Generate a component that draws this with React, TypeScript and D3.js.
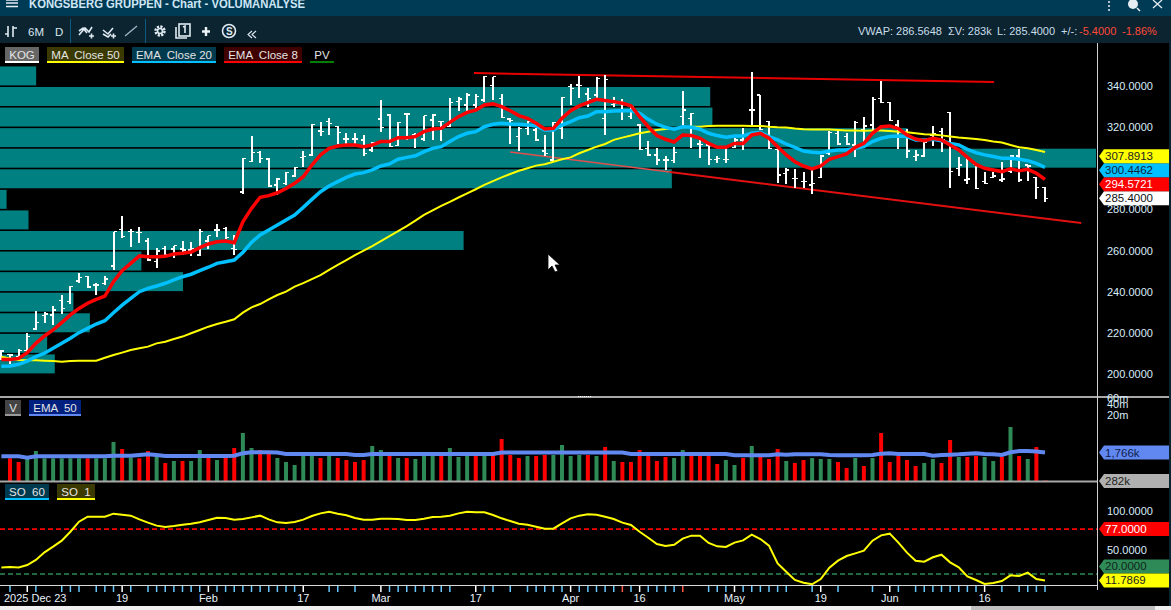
import React from 'react';
import * as d3 from 'd3';

// price bars, oldest first; the first entry is the bar cut off at the left edge (bar -1)
const opens = [
  209,
  209.6,208.4,211.4,221.9,228.4,228.7,235.7,235.2,245.2,247.3,
  243.3,244.1,252.5,270.3,269.2,268.7,264.6,254.6,261.1,260.8,
  260.8,260.3,257.9,264.6,270,270.8,261.1,288.5,303.4,307.6,
  304.5,291.9,292.7,296.3,305.2,306.5,318.1,322.7,320.2,314.2,
  314.2,313.8,308.9,324,325.9,311,326.4,316.2,314.2,323.5,
  322.7,320.2,332.4,330.8,330.8,333.2,340.2,334,324,315.4,
  319.4,318.6,308.4,304,319.4,339.7,340.5,336.1,335.6,324.3,
  331.1,331.6,325.1,321,309.7,306.5,304,303.7,325.1,324.3,
  311.8,311.3,304.4,304.4,310.2,313.8,328.3,335.6,322.7,309.2,
  297.6,295.1,293.5,291.9,295.6,307.3,317,315.4,311.3,319,
  321,334,332.1,321,317.8,305.7,306,316.2,317.8,327,
  300,294.3,302,293.5,295.6,294.3,298.4,306,301.6,295.6,
  290.8,
];
const closes = [
  211.2,
  209.2,211.4,218.2,225.1,229.2,231.1,231.9,242.5,246.8,242.3,
  243.3,246.2,269.2,266.8,269.2,268.7,255.4,259.8,257.9,262.4,
  260.3,261.1,269.2,267.2,270,266.4,260.6,304.9,307.6,304.9,
  291.4,294.8,297.9,300.3,305.7,321.4,317.8,321.9,317.3,314.2,
  314.2,307.3,312.5,319.9,310.5,322.2,326.4,316.5,325.6,325.9,
  322.7,331.9,333.7,335.6,334.8,344.5,344.5,324.6,323.2,319.4,
  322.7,313.8,307.3,322.3,334.5,338.9,340.2,334,343.7,343.2,
  331.6,328.3,330,309.2,306.5,304,304,307.6,328.3,326.7,
  311.5,304.4,304.9,304.4,313.8,313.4,328.3,319,309.7,296.8,
  299.2,295.1,293.5,292.7,306,317.3,311.8,311.8,322.3,320.6,
  333.5,332.1,323.2,319.4,308.4,306.5,312.5,317,313.8,298.4,
  301.6,294.7,290.1,292.7,296.3,294.7,306,294.3,301.1,290.8,
  285.4,
];
const highs = [
  211.5,
  209.7,212,219.8,230.6,230.3,233.1,238.2,242.8,248.9,247.6,
  244.1,247.6,269.2,276.8,270.5,271.3,266,261.1,262.4,262.4,
  264.5,264,270.3,267.2,272.9,271.3,267.6,305.2,315.7,308.4,
  304.9,295.2,298.4,300.8,308.4,321.4,322.3,324.6,320.7,317,
  317,316.2,313,333.2,326.2,322.3,326.7,317,325.6,326.2,
  323,334,334.8,336.8,336.1,345,344.5,336.1,324.3,319.9,
  323.2,319.4,316.2,322.3,334.8,341,345,338.9,344.5,345.4,
  334.8,333.5,330.8,321.4,313.4,309.7,306.1,310.5,337.6,326.7,
  313.8,311.5,306,310,314.6,319.4,346.7,335.6,323.2,309.7,
  300,299.7,298.4,299.2,306.5,318.1,318.1,317,323,325.1,
  334.8,342.6,332.4,323.5,319,308.9,313.3,320.6,319.4,327.2,
  305.3,304.9,302.4,298.4,298.4,303.2,306.5,309.2,301.6,295.9,
  291.1,
];
const lows = [
  207,
  204.9,207.6,210.9,221.6,225,223.8,229.2,234,244.4,242,
  238.4,243.3,250.6,266,261.9,263.5,254.9,251.7,257,256.2,
  257.9,257.4,257.4,260.6,266.8,265.5,257.9,287.5,302.9,302.8,
  291.1,287,291.9,295.6,300.5,306,315.9,316.2,311.8,311.3,
  311.2,306.2,308.1,317.5,310.5,311,313.8,309.7,313.3,313.8,
  313.4,319.9,327.9,327.5,329.2,332.4,333.2,324.3,311.8,308.4,
  316.2,313.4,306,303.2,314.2,330.8,334,330,334,316.2,
  329.6,323.5,324,308.9,306,301.6,299.2,302.7,320.2,309.7,
  305.2,301.6,302.4,302.4,309.7,308.9,321,318.6,309.4,292.7,
  292.4,290.3,290.3,287.3,295.1,306.5,311.3,311.3,305.7,310.2,
  318.6,331.6,323.2,309.2,305.2,303.7,305.7,310.8,308.1,290.3,
  296.4,292.2,289.8,292.2,295.4,293.5,297.9,293.5,293.8,284.9,
  283.5,
];

const ema8 = [
  207.1,
  207.1,207.6,210.4,214.9,218.5,221.4,225,228.7,231.9,234.4,
  236.3,237.9,244.9,250.2,253.8,257.4,257,257,257.2,258.3,
  258.7,259.3,261.4,263.2,264.3,264.6,263.8,274,280.5,285.9,
  286.7,288.1,290.2,292.7,295.9,301.6,306.5,309.7,310.8,311.3,
  311.3,310.5,311.3,313,313,314.9,314.9,315.4,317.8,319.1,
  319.4,322.3,325.1,327.2,328.3,330.8,331.3,330,328,325.6,
  324.3,321.9,319.1,319.4,324.3,328,330.3,331.9,333.5,332.9,
  332.4,331.6,330.4,325.1,320.2,315.9,314.1,312.8,316.2,315.9,
  314.6,312.1,310.2,310.2,312.1,312.1,316.2,317,314.6,310.5,
  306.5,303.2,301.1,299.7,301.1,304.4,305.7,307,310.2,312.1,
  317,320.2,320.6,319.3,316.2,314.2,313.4,314.6,313.8,311.3,
  308.9,305.3,301.9,300,299.2,298.4,299.7,298.8,299.5,297.6,
  294.57,
];
const ema20 = [
  203.8,
  203.9,204.7,206.3,208.4,210.1,212.5,214.9,217.4,220.1,222.2,
  224.3,225.9,229.8,233.5,236.8,240,241.6,242.8,244.1,245.7,
  247.3,248.5,250.2,251.9,253.8,254.6,255.4,259.1,264,267.6,
  270,272.4,274.9,277.3,281,284.9,288.6,291.4,293.5,295.6,
  297.2,297.9,299.2,301.1,302.1,304.4,305.3,306.1,308.1,309.7,
  310.5,313,315.4,317,317.8,320.2,321.4,321.9,321.5,321.4,
  321,320.6,318.6,318.6,321,322.7,324.6,325.4,327.5,327.5,
  327.9,328,328,326.7,323.8,321.4,319.9,319,320.2,319.9,
  319,317,315.9,315.1,315.7,315.7,317,317.5,315.4,313.8,
  311.8,310.2,308.4,307.8,307.6,308.4,308.9,308.9,309.7,310.5,
  313,314.6,315.4,315.7,315.4,313.8,313.8,314.1,313.4,312.1,
  311.3,309.2,307.6,306.5,305.7,304.9,304.9,304.4,303.7,302.4,
  300.45,
];
const ma50 = [
  208.4,
  207.6,206.8,206.7,206.7,206.5,206.3,206,206.3,206.5,206.5,
  206.5,207.9,209.2,210.4,211.7,212.5,213.3,214.9,215.7,217,
  218.2,219.8,221.4,223,224.3,225.4,226.6,229.8,232.4,234,
  236.3,238.4,240,242.5,244.2,246.1,248.1,250.6,253,255.4,
  257.8,260,262.2,264.6,267,269.5,271.9,274.6,277.3,279.5,
  281.7,283.7,285.8,287.8,289.8,291.9,293.8,295.6,297.2,298.8,
  300,301.3,302,303.2,304.4,305.3,307.3,308.9,310.5,311.8,
  313.8,314.9,315.9,317,317.8,318.6,319.1,319.4,319.9,320.2,
  320.2,320.6,320.7,320.7,320.7,320.7,320.6,320.6,320.2,319.9,
  319.8,319.3,319,318.8,318.8,318.8,318.6,318.4,318.4,318.3,
  318.4,318.4,318.1,317.8,317.5,317,316.5,316.4,316,315.5,
  315,314.6,314.2,313.8,313,312.5,311.3,310.2,309.7,308.9,
  307.89,
];

// volume in thousands, starts at bar 0
const volumes = [
  1220,961,1220,1956,1220,1220,1220,1220,1220,1220,
  1220,1220,3500,2226,1270,1220,1956,1500,901,1026,
  1026,1026,2087,1270,1094,1270,2375,6260,2375,2087,
  1686,1245,961,792,1511,1511,1245,1511,1245,1094,
  961,1094,2702,2087,1416,1245,
  1245,1167,1511,1511,1511,2375,1328,1511,1511,1511,
  1511,4245,1511,1245,1416,1416,1511,1511,2882,1416,
  1511,1511,1416,2533,1026,961,961,2087,1416,1026,
  1328,1245,2087,1416,1416,1416,845,1094,792,1245,
  2702,1416,1167,2226,1026,901,
  1094,1245,1167,1167,961,653,1245,743,1245,6260,
  961,1416,1094,743,901,1167,901,3980,1328,1328,
  1416,1328,1026,1328,9220,1416,1167,2533,290,
];
const volumeSides = (
  'rrgggggggrgggrgrrgrgrggrgrrggrrgggggrgrrrrggrg' +
  'rgggrgggrgrrrrgrrggggrgrgrrrrrrggrrrrggrgrrrgr' +
  'rgggrrgrgrrrrrggrrgrrggrgrgrr'
).split('');
const volumeEma = [
  1385,
  1385,1385,1270,1385,1385,1385,1385,1385,1385,1385,
  1385,1385,1445,1445,1445,1511,1575,1511,1416,1416,
  1416,1416,1416,1416,1416,1416,1445,1700,1807,1807,
  1807,1766,1610,1610,1610,1610,1610,1610,1610,1610,
  1511,1511,1610,1610,1610,1610,1610,1610,1610,1610,
  1610,1610,1610,1610,1610,1610,1610,1766,1766,1766,
  1766,1766,1766,1766,1766,1766,1766,1766,1766,1766,
  1766,1766,1610,1610,1610,1610,1610,1610,1610,1610,
  1610,1610,1610,1610,1480,1480,1480,1480,1480,1575,
  1540,1575,1575,1575,1575,1511,1480,1480,1480,1480,
  1511,1650,1686,1610,1610,1610,1610,1445,1511,1540,
  1575,1650,1686,1610,1575,1511,1807,1956,1956,1900,
  1766,
];

const stochastic = [
  28.4,
  28.9,28.4,31.4,37.8,47.5,54.7,62.3,73.7,86.4,92.8,
  92.8,92.8,96.6,95.3,94.1,89.4,85.2,81.4,79.7,80.9,
  82.6,83.9,85.6,88.5,91.5,91.1,89,89.8,91.9,94.1,
  89.4,85.6,84.7,86,89,93.6,97,99.1,96.6,94.5,
  91.1,89,89,90.2,90.2,89.8,88.6,88.6,90.2,92.4,
  92.8,94.1,97,99.1,98.3,98.3,94.9,90.7,87.3,83.9,
  82.6,80.1,77.5,77.5,84.3,90.7,94.1,95.8,95.3,92.8,
  89.8,85.2,82.2,73.7,66.1,58,55.5,57.2,64.9,68.7,
  68.7,59.4,55.1,54.3,59.8,62.7,69.9,64.4,56,33.5,
  22.9,12.4,9,6.9,13.6,28,36.9,42.8,46.2,49.6,
  62.3,69.1,71.2,59.8,47.1,36.9,35.6,41.2,44.5,34.8,
  28.4,17,12.4,7.3,8.6,11.1,18.3,17.4,21.7,13.6,
  11.79,
];

// volume by price: lower edge of each 10 wide bin, share of the widest bin
const profileBins = [200,210,220,230,240,250,260,270,280,290,300,310,320,330,340];
const profileSizes = [5,4.3,8.2,6.7,16.7,12.9,42.3,2.6,0.6,61.3,100,82.8,65,64.8,3.3];

const priceTicks = [200,220,240,260,280,320,340];
const volumeTicks = [20000,40000,60000];
const volumeTickLabels = ['20m','40m','60m'];
const stochTicks = [50,100];

// bar index, price
const trendUpper = [[53.8,346.3],[114.1,341.9]];
const trendLowerFaint = [[58,307.9],[76.5,298.2]];
const trendLower = [[76.5,298.2],[124.2,273.4]];

const dateLabelBars = [13,23,34,43,54,65,73,84,94,102,113];
const dateLabels = ['19','Feb','17','Mar','17','Apr','16','May','19','Jun','16'];
const whiteTickBars = [2,13,23,34,43,54,65,73,84,94,102,113];
const redTickBars = [71,78];
const tickBars = [
  0,2,3,6,7,8,10,11,12,13,14,16,17,18,19,20,21,22,23,24,25,26,27,28,29,30,31,32,33,34,37,38,40,43,44,45,
  46,47,48,49,50,51,54,55,56,58,60,61,62,63,64,65,66,67,68,69,70,71,72,73,74,75,76,77,78,81,82,83,84,85,86,87,88,89,90,
  93,94,96,100,102,103,105,106,107,108,109,110,111,112,113,115,117,118,119,120,
];

const FONT = '"Liberation Sans", Arial, sans-serif';
const TEAL = '#008080';
const AXIS_TEXT = '#d8ecfa';
const BLUE = '#00c0ff';
const VOL_BLUE = '#6088f0';
const GREEN = '#2e8b57';

const x = d3.scaleLinear().domain([0, 120]).range([10, 1045]);
const y = d3.scaleLinear().domain([340, 200]).range([86, 374]);
const yVol = d3.scaleLog().domain([282, 20000]).range([481, 415]);
const yStoch = d3.scaleLinear().domain([100, 20]).range([511, 574]);
const xProfile = d3.scaleLinear().domain([0, 100]).range([0, 1096]);

// series arrays begin one bar before bar 0
const seriesLine = (yScale: (v: number) => number) =>
  d3.line<number>().x((_, i) => x(i - 1)).y(d => yScale(d));

const trendLine = d3.line<number[]>().x(d => x(d[0])).y(d => y(d[1]));

function Legend({ left, top, width, label, bg, line }: any) {
  return (
    <g>
      {bg && <rect x={left} y={top} width={width} height={15} fill={bg} />}
      <rect x={left} y={top + 14} width={width} height={2} fill={line} />
      <text x={left + width / 2} y={top + 12} textAnchor="middle" fontSize={11.5} fill="#e4e4e4" style={{ whiteSpace: 'pre' }}>
        {label}
      </text>
    </g>
  );
}

function Tag({ cy, label, fill, color }: any) {
  const h = 7;
  return (
    <g>
      <path d={`M1099,${cy} L1104,${cy - h} H1169 V${cy + h} H1104 Z`} fill={fill} />
      <text x={1105} y={cy + 4} fontSize={11.5} fill={color}>{label}</text>
    </g>
  );
}

function Toolbar() {
  const stroke = { fill: 'none', stroke: '#dfeaf2', strokeWidth: 1.6 };
  return (
    <g>
      <rect x={0} y={0} width={1171} height={16} fill="#003b55" />
      <rect x={0} y={16} width={1171} height={27} fill="#0c2430" />
      <path d="M6,3H18M6,6.5H18M6,0H18" stroke="#e6eef4" strokeWidth={1.5} />
      <text x={29} y={8} fontSize={12} fontWeight="bold" fill="#cfe6f4" textLength={276} lengthAdjust="spacingAndGlyphs">
        KONGSBERG GRUPPEN - Chart - VOLUMANALYSE
      </text>
      <path d="M1109,1V3M1109,5V7M1109,9V11" stroke="#e6eef4" strokeWidth={1.5} />
      <circle cx={1133} cy={4} r={5} fill="#e6eef4" />
      <path d="M1137,8L1140,11" stroke="#e6eef4" strokeWidth={1.5} />
      <path d="M1153,0L1162,8M1162,0L1153,8" stroke="#e6eef4" strokeWidth={1.3} />

      <path d="M8,26V37M5,34H8M13,26V37M13,28H17" {...stroke} />
      <text x={28} y={36} fontSize={11.5} fill="#d8e6f0">6M</text>
      <text x={55} y={36} fontSize={11.5} fill="#d8e6f0">D</text>
      <rect x={70} y={19} width={1} height={24} fill="#0b5a80" />
      <path d="M79,35L85,28L89,32L92,27M79,31L83,28L87,33" {...stroke} />
      <path d="M89,36H94M91.5,33.5V38.5" {...stroke} />
      <path d="M103,30L108,34L113,28M103,34L108,37L111,34" {...stroke} />
      <path d="M111,36H116M113.5,33.5V38.5" {...stroke} />
      <path d="M125,36L137,26" stroke="#9fb4c2" strokeWidth={1.4} />
      <rect x={145} y={19} width={1} height={24} fill="#0b5a80" />
      <circle cx={160} cy={31} r={4.5} fill="none" stroke="#dfeaf2" strokeWidth={2.4} strokeDasharray="2.2 1.3" />
      <circle cx={160} cy={31} r={2.5} {...stroke} />
      <rect x={179} y={24} width={11} height={12} {...stroke} />
      <path d="M176,27V38H187" {...stroke} />
      <path d="M183,27L185,26V33" {...stroke} />
      <path d="M206,27V36M202,31.5H210" stroke="#eef4f8" strokeWidth={2.4} />
      <circle cx={229} cy={31} r={6.5} {...stroke} />
      <text x={226} y={35} fontSize={10} fontWeight="bold" fill="#dfeaf2">S</text>
      <path d="M252,31L248,34.5L252,38M256,31L252,34.5L256,38" {...stroke} strokeWidth={1.1} />

      <g fontSize={11} fill="#c8dcea">
        <text x={858} y={35}>VWAP: 286.5648</text>
        <text x={948} y={35}>ΣV: 283k</text>
        <text x={997} y={35}>L: 285.4000</text>
        <text x={1061} y={35}>+/-:</text>
      </g>
      <g fontSize={11} fill="#ff4a3a">
        <text x={1079} y={35}>-5.4000</text>
        <text x={1122} y={35}>-1.86%</text>
      </g>
    </g>
  );
}

export default function App() {
  const lastPrice = closes[closes.length - 1];
  const lastStoch = stochastic[stochastic.length - 1];
  const lastVolEma = volumeEma[volumeEma.length - 1];
  // value tags sit stacked 14px apart, upward from the last price
  const tagBase = y(lastPrice);
  const stackedTags = [
    { label: lastPrice.toFixed(4), fill: '#ffffff', color: '#111' },
    { label: '294.5721', fill: '#ff0000', color: '#fff' },
    { label: '300.4462', fill: BLUE, color: '#10233a' },
    { label: '307.8913', fill: '#ffff00', color: '#222' },
  ];
  const barWidth = 4;

  return (
    <div style={{ position: 'absolute', left: 0, top: 0, width: 1171, height: 610, background: '#000' }}>
      <svg width={1171} height={610} fontFamily={FONT} style={{ display: 'block' }}>
        <rect x={0} y={0} width={1171} height={610} fill="#000" />

        {/* volume by price */}
        {profileBins.map((b, i) => (
          <rect
            key={b}
            x={0}
            y={y(b + 10) + 1}
            width={xProfile(profileSizes[i])}
            height={y(b) - y(b + 10) - 1.6}
            fill={TEAL}
          />
        ))}

        <path d={trendLine(trendUpper) || ''} fill="none" stroke="#e80000" strokeWidth={2} />
        <path d={trendLine(trendLowerFaint) || ''} fill="none" stroke="#e05050" strokeWidth={1.6} />
        <path d={trendLine(trendLower) || ''} fill="none" stroke="#e21010" strokeWidth={2} />

        {/* OHLC bars */}
        <g stroke="#fff" shapeRendering="crispEdges">
          {highs.map((h, i) => {
            const bx = x(i - 1);
            return (
              <g key={i}>
                <line x1={bx} x2={bx} y1={y(h)} y2={y(lows[i])} strokeWidth={2} />
                <line x1={bx - 3} x2={bx} y1={y(opens[i])} y2={y(opens[i])} strokeWidth={1.4} />
                <line x1={bx} x2={bx + 3} y1={y(closes[i])} y2={y(closes[i])} strokeWidth={1.4} />
              </g>
            );
          })}
        </g>

        <path d={seriesLine(y)(ma50) || ''} fill="none" stroke="#ffff00" strokeWidth={2} />
        <path d={seriesLine(y)(ema20) || ''} fill="none" stroke={BLUE} strokeWidth={3.5} />
        <path d={seriesLine(y)(ema8) || ''} fill="none" stroke="#ff0000" strokeWidth={3.5} />

        {/* pane separators and axes */}
        <rect x={0} y={396} width={1171} height={2} fill="#a8a8a8" />
        <path d="M578,396.5h14" stroke="#fff" strokeWidth={1} strokeDasharray="1 1" />
        <rect x={1097} y={43} width={1} height={547} fill="#d0d0d0" />
        <rect x={1169} y={43} width={2} height={563} fill="#0c2430" />

        {/* volume */}
        {volumes.map((v, i) => (
          <rect
            key={i}
            x={x(i) - barWidth / 2}
            y={yVol(v)}
            width={i === 120 ? 5 : barWidth}
            height={Math.max(1, 481 - yVol(v))}
            fill={volumeSides[i] === 'g' ? GREEN : '#ff0000'}
          />
        ))}
        <rect x={0} y={480.5} width={1097} height={2} fill="#a8a8a8" />
        <path d={seriesLine(yVol)(volumeEma) || ''} fill="none" stroke={VOL_BLUE} strokeWidth={4} />

        {/* stochastic */}
        <line x1={0} x2={1097} y1={yStoch(77)} y2={yStoch(77)} stroke="#ff0000" strokeWidth={1.6} strokeDasharray="5 3" />
        <line x1={0} x2={1097} y1={yStoch(20)} y2={yStoch(20)} stroke={GREEN} strokeWidth={1.6} strokeDasharray="5 3" />
        <path d={seriesLine(yStoch)(stochastic) || ''} fill="none" stroke="#ffff00" strokeWidth={2} />

        {/* time axis */}
        <rect x={0} y={585} width={1098} height={1} fill="#d8d8d8" />
        {tickBars.map(b => (
          <line
            key={b}
            x1={x(b)}
            x2={x(b)}
            y1={586}
            y2={592}
            strokeWidth={1.5}
            stroke={whiteTickBars.includes(b) ? '#fff' : redTickBars.includes(b) ? '#ff5a4a' : '#66c8ff'}
          />
        ))}
        <text x={4} y={602} fontSize={11} fill="#e8f4fc">2025 Dec 23</text>
        {dateLabels.map((d, i) => (
          <text key={i} x={x(dateLabelBars[i])} y={602} fontSize={11} textAnchor="middle" fill="#e8f4fc">{d}</text>
        ))}

        {/* right axes */}
        {priceTicks.map(t => (
          <text key={t} x={1107} y={y(t) + 4} fontSize={11} fill={AXIS_TEXT}>{t.toFixed(4)}</text>
        ))}
        {volumeTicks.map((t, i) => (
          <text key={t} x={1107} y={yVol(t) + 4} fontSize={11} fill={AXIS_TEXT}>{volumeTickLabels[i]}</text>
        ))}
        {stochTicks.map(t => (
          <text key={t} x={1107} y={yStoch(t) + 4} fontSize={11} fill={AXIS_TEXT}>{t.toFixed(4)}</text>
        ))}

        {stackedTags.map((t, i) => (
          <Tag key={t.label} cy={tagBase - i * 14} label={t.label} fill={t.fill} color={t.color} />
        ))}
        <Tag cy={yVol(lastVolEma)} label="1,766k" fill={VOL_BLUE} color="#10204a" />
        <Tag cy={yVol(282)} label="282k" fill="#b0b0b0" color="#222" />
        <Tag cy={yStoch(77)} label="77.0000" fill="#ff0000" color="#fff" />
        <Tag cy={yStoch(lastStoch) - 14} label="20.0000" fill={GREEN} color="#10251a" />
        <Tag cy={yStoch(lastStoch)} label="11.7869" fill="#ffff00" color="#222" />

        {/* legends */}
        <Legend left={5} top={47} width={34} label="KOG" bg="#666" line="#fff" />
        <Legend left={47} top={47} width={77} label="MA  Close 50" bg="#3a3a00" line="#ffff00" />
        <Legend left={132} top={47} width={84} label="EMA  Close 20" bg="#003a4f" line={BLUE} />
        <Legend left={224} top={47} width={78} label="EMA  Close 8" bg="#3f0000" line="#ff0000" />
        <Legend left={310} top={47} width={24} label="PV" line="#007f00" />
        <Legend left={5} top={400} width={16} label="V" bg="#444" line="#999" />
        <Legend left={29} top={400} width={52} label="EMA  50" bg="#00207f" line={VOL_BLUE} />
        <Legend left={5} top={484} width={44} label="SO  60" bg="#003a4f" line={BLUE} />
        <Legend left={57} top={484} width={38} label="SO  1" bg="#3a3a00" line="#ffff00" />

        <Toolbar />

        {/* mouse pointer */}
        <path
          d="M548,254V270L552,266L555,272L558,271L555,265H560Z"
          fill="#fff"
          stroke="#000"
          strokeWidth={0.8}
        />

        {/* window bottom edge */}
        <rect x={0} y={606} width={1171} height={4} fill="#f0f0f0" />
        <rect x={971} y={606} width={184} height={4} fill="#c0c0c0" />
      </svg>
    </div>
  );
}
